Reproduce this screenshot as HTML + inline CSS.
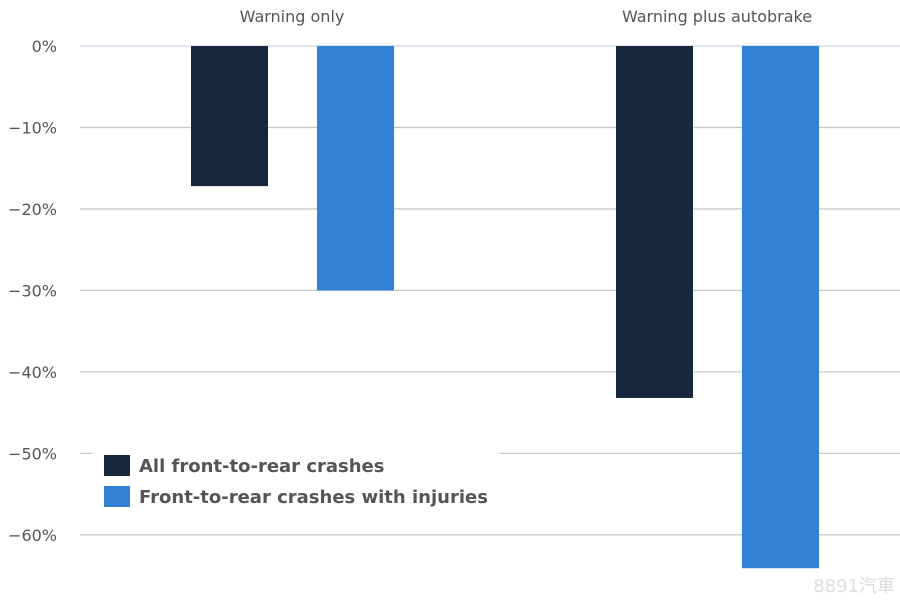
<!DOCTYPE html>
<html><head><meta charset="utf-8"><style>
html,body{margin:0;padding:0;background:#fff;width:900px;height:600px;overflow:hidden}
svg{display:block;font-family:"DejaVu Sans","Liberation Sans","Noto Sans CJK TC",sans-serif}
</style></head><body>
<svg id="chart" width="900" height="600"></svg>
<script>
const categories = ["Warning only", "Warning plus autobrake"];
const seriesNames = ["All front-to-rear crashes", "Front-to-rear crashes with injuries"];
const seriesAll = [-17.2, -43.2];
const seriesInjuries = [-30, -64.1];
const tickValues = [0, -10, -20, -30, -40, -50, -60];
const tickLabels = ["0%", "\u221210%", "\u221220%", "\u221230%", "\u221240%", "\u221250%", "\u221260%"];
const colors = ["#17283c", "#3281d3"];

const NS = "http://www.w3.org/2000/svg";
const svg = document.getElementById("chart");
function y(v){ return 46 - v * 8.147; }
const catCenters = [292, 717];
function mk(tag, attrs){ const e=document.createElementNS(NS,tag); for(const k in attrs) e.setAttribute(k,attrs[k]); svg.appendChild(e); return e; }

tickValues.forEach((v,i)=>{
  const l = mk("line",{x1:80,x2:900,y1:y(v),y2:y(v),stroke:v===0?"#ccd6eb":"#c8c8c8","stroke-width":1.3});
  
  
  const t = mk("text",{x:57,y:y(v)+6,"text-anchor":"end","font-size":16,fill:"#555"});
  t.textContent = tickLabels[i];
  
  
});
categories.forEach((c,i)=>{
  const t = mk("text",{x:catCenters[i],y:22,"text-anchor":"middle","font-size":16,fill:"#555"});
  t.textContent = c;
  
  
  [seriesAll, seriesInjuries].forEach((s,j)=>{
    const x0 = catCenters[i] - 101 + j*126;
    const r = mk("rect",{x:x0,y:y(0),width:77,height:y(s[i])-y(0),fill:colors[j]});
    
    
  });
});
const bg = mk("rect",{x:92,y:438,width:408,height:82,fill:"#fff"});


seriesNames.forEach((n,j)=>{
  const sq = mk("rect",{x:104,y:455+j*31,width:26,height:21,fill:colors[j]});
  
  
  const t = mk("text",{x:139,y:472+j*31,"font-size":18,"font-weight":"bold",fill:"#555"});
  t.textContent = n;
  
  
});
const wm = mk("text",{x:895,y:592,"text-anchor":"end","font-size":18,fill:"#ddd"});
wm.textContent = "8891汽車";


</script>
</body></html>
